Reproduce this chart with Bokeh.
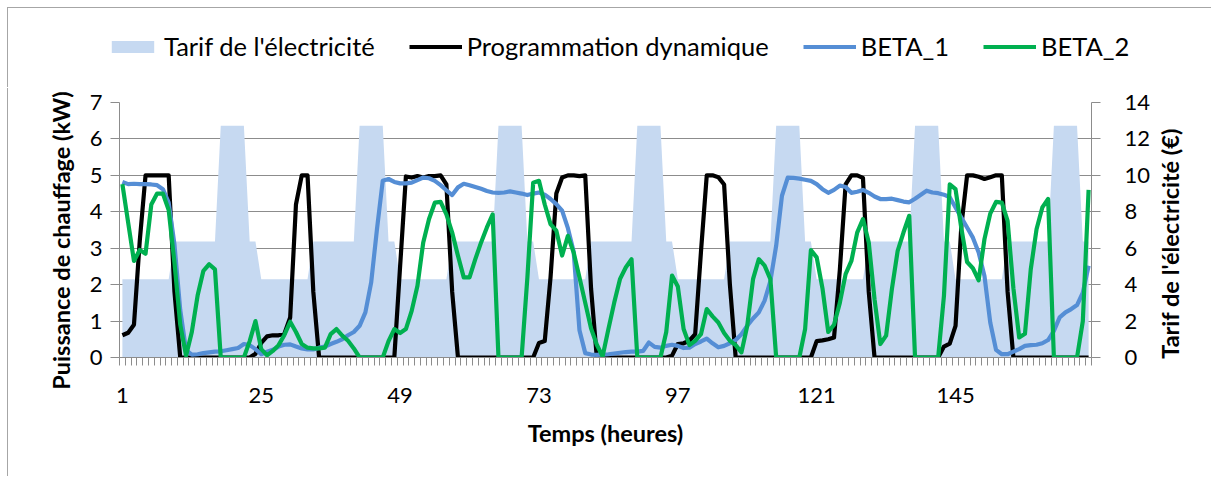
import math
from bokeh.plotting import figure
from bokeh.models import Range1d, LinearAxis, FixedTicker, Legend, LegendItem, Label
from bokeh.embed import file_html
from bokeh.resources import INLINE

# ---------------- data ----------------
hours = list(range(1, 169))

# Tarif de l'électricité (secondary axis, €)
tarif = [
    4.3, 4.3, 4.3, 4.3, 4.3, 4.3, 4.3, 4.3, 4.3, 6.37, 6.37, 6.37, 6.37, 6.37, 6.37, 6.37, 6.37, 12.73, 12.73, 12.73, 12.73, 12.73, 6.37, 6.37,
    4.3, 4.3, 4.3, 4.3, 4.3, 4.3, 4.3, 4.3, 4.3, 6.37, 6.37, 6.37, 6.37, 6.37, 6.37, 6.37, 6.37, 12.73, 12.73, 12.73, 12.73, 12.73, 6.37, 6.37,
    4.3, 4.3, 4.3, 4.3, 4.3, 4.3, 4.3, 4.3, 4.3, 6.37, 6.37, 6.37, 6.37, 6.37, 6.37, 6.37, 6.37, 12.73, 12.73, 12.73, 12.73, 12.73, 6.37, 6.37,
    4.3, 4.3, 4.3, 4.3, 4.3, 4.3, 4.3, 4.3, 4.3, 6.37, 6.37, 6.37, 6.37, 6.37, 6.37, 6.37, 6.37, 12.73, 12.73, 12.73, 12.73, 12.73, 6.37, 6.37,
    4.3, 4.3, 4.3, 4.3, 4.3, 4.3, 4.3, 4.3, 4.3, 6.37, 6.37, 6.37, 6.37, 6.37, 6.37, 6.37, 6.37, 12.73, 12.73, 12.73, 12.73, 12.73, 6.37, 6.37,
    4.3, 4.3, 4.3, 4.3, 4.3, 4.3, 4.3, 4.3, 4.3, 6.37, 6.37, 6.37, 6.37, 6.37, 6.37, 6.37, 6.37, 12.73, 12.73, 12.73, 12.73, 12.73, 6.37, 6.37,
    4.3, 4.3, 4.3, 4.3, 4.3, 4.3, 4.3, 4.3, 4.3, 6.37, 6.37, 6.37, 6.37, 6.37, 6.37, 6.37, 6.37, 12.73, 12.73, 12.73, 12.73, 12.73, 6.37, 6.37,
]

# Programmation dynamique (kW)
dp = [
    0.61, 0.68, 0.9, 3.2, 5.0, 5.0, 5.0, 5.0, 5.0, 1.8, 0, 0, 0, 0, 0, 0, 0, 0, 0, 0, 0, 0, 0, 0.1,
    0.4, 0.58, 0.61, 0.61, 0.65, 1.1, 4.2, 5.0, 5.0, 1.8, 0, 0, 0, 0, 0, 0, 0, 0, 0, 0, 0, 0, 0, 0,
    2.5, 4.97, 4.94, 4.98, 4.94, 4.98, 4.98, 5.0, 4.75, 1.8, 0, 0, 0, 0, 0, 0, 0, 0, 0, 0, 0, 0, 0, 0,
    0.4, 0.45, 2.2, 4.5, 4.94, 5.0, 5.0, 4.98, 5.0, 1.9, 0, 0, 0, 0, 0, 0, 0, 0, 0, 0, 0, 0, 0, 0.05,
    0.37, 0.39, 0.46, 0.64, 2.9, 5.0, 5.0, 4.95, 4.75, 2.0, 0, 0, 0, 0, 0, 0, 0, 0, 0, 0, 0, 0, 0, 0,
    0.45, 0.47, 0.5, 0.55, 2.4, 4.75, 5.0, 5.0, 4.93, 1.8, 0, 0, 0, 0, 0, 0, 0, 0, 0, 0, 0, 0, 0.3, 0.38,
    0.87, 3.6, 5.0, 5.0, 4.96, 4.9, 4.95, 5.0, 5.0, 1.8, 0, 0, 0, 0, 0, 0, 0, 0, 0, 0, 0, 0, 0, 0,
]

# BETA_1 (kW)
beta1 = [
    4.82, 4.76, 4.77, 4.76, 4.76, 4.75, 4.73, 4.62, 4.25, 3.1, 1.3, 0.2, 0.08, 0.09, 0.12, 0.14, 0.16, 0.17, 0.2, 0.23, 0.26, 0.37, 0.34, 0.23,
    0.09, 0.16, 0.21, 0.3, 0.35, 0.36, 0.3, 0.25, 0.22, 0.22, 0.27, 0.3, 0.37, 0.43, 0.5, 0.61, 0.7, 0.87, 1.24, 2.06, 3.52, 4.85, 4.9, 4.82,
    4.78, 4.78, 4.8, 4.87, 4.94, 4.92, 4.85, 4.73, 4.59, 4.46, 4.67, 4.77, 4.73, 4.68, 4.63, 4.57, 4.53, 4.52, 4.53, 4.56, 4.53, 4.5, 4.46, 4.5,
    4.53, 4.47, 4.35, 4.21, 4.03, 3.55, 2.9, 0.75, 0.12, 0.08, 0.07, 0.08, 0.09, 0.11, 0.13, 0.15, 0.16, 0.16, 0.18, 0.41, 0.29, 0.27, 0.32, 0.35,
    0.32, 0.26, 0.27, 0.37, 0.44, 0.52, 0.39, 0.28, 0.32, 0.39, 0.48, 0.64, 0.87, 1.07, 1.24, 1.56, 2.1, 3.07, 4.44, 4.94, 4.93, 4.91, 4.88, 4.85,
    4.76, 4.62, 4.52, 4.6, 4.72, 4.68, 4.52, 4.55, 4.6, 4.52, 4.42, 4.35, 4.35, 4.36, 4.32, 4.28, 4.26, 4.36, 4.47, 4.58, 4.53, 4.51, 4.47, 4.4,
    4.12, 3.84, 3.57, 3.29, 2.88, 2.24, 0.96, 0.21, 0.09, 0.09, 0.16, 0.23, 0.32, 0.34, 0.35, 0.39, 0.48, 0.73, 1.1, 1.24, 1.33, 1.44, 1.78, 2.52,
]

# BETA_2 (kW)
beta2 = [
    4.76, 3.7, 2.65, 2.95, 2.85, 4.2, 4.5, 4.5, 4.05, 2.6, 0.9, 0.05, 0.7, 1.7, 2.38, 2.56, 2.42, 0, 0, 0, 0, 0, 0.45, 1.0,
    0.23, 0.06, 0.18, 0.34, 0.62, 0.98, 0.7, 0.37, 0.27, 0.25, 0.25, 0.27, 0.64, 0.78, 0.6, 0.46, 0.25, 0, 0, 0, 0, 0, 0.45, 0.78,
    0.67, 0.78, 1.28, 1.97, 3.16, 3.8, 4.25, 4.27, 3.93, 3.43, 2.79, 2.2, 2.2, 2.7, 3.16, 3.57, 3.93, 0, 0, 0, 0, 0, 2.2, 4.8,
    4.85, 4.2, 3.66, 3.48, 2.8, 3.34, 2.88, 2.2, 1.5, 0.8, 0.35, 0.03, 0.78, 1.5, 2.15, 2.47, 2.7, 0, 0, 0, 0, 0, 0.7, 2.25,
    1.95, 0.78, 0.34, 0.46, 0.64, 1.33, 1.13, 0.96, 0.67, 0.46, 0.34, 0.14, 0.87, 2.15, 2.7, 2.52, 2.15, 0, 0, 0, 0, 0, 0.78, 2.95,
    2.75, 1.9, 0.7, 0.9, 1.5, 2.29, 2.65, 3.43, 3.8, 3.16, 1.6, 0.37, 0.6, 1.88, 2.93, 3.43, 3.89, 0, 0, 0, 0, 0, 1.7, 4.75,
    4.62, 3.55, 2.62, 2.45, 2.12, 3.25, 3.95, 4.27, 4.25, 3.75, 1.9, 0.55, 0.65, 2.42, 3.52, 4.12, 4.35, 0, 0, 0, 0, 0, 1.0, 4.6,
]

x_tick_labels = [1, 25, 49, 73, 97, 121, 145]
left_ticks = [0, 1, 2, 3, 4, 5, 6, 7]
right_ticks = [0, 2, 4, 6, 8, 10, 12, 14]

series_names = ["Tarif de l'électricité", "Programmation dynamique", "BETA_1", "BETA_2"]
x_title = "Temps (heures)"
y_title = "Puissance de chauffage (kW)"
y2_title = "Tarif de l'électricité (€)"

# ---------------- style ----------------
FONT = "Lato"
GREY = "#8c8c8c"
BORDER = "1px solid #a6a6a6"
C_AREA = "#C6D9F1"
C_DP = "#000000"
C_B1 = "#558ED5"
C_B2 = "#00B050"
LW = 4.2
W = 1204


def strip(w, h, xr, yr, transparent=False):
    fig = figure(width=w, height=h, x_range=xr, y_range=yr, title=None,
                 output_backend="svg", toolbar_location=None,
                 min_border_left=0, min_border_right=0, min_border_top=0, min_border_bottom=0)
    fig.outline_line_color = None
    fig.xaxis.visible = False
    fig.yaxis.visible = False
    fig.xgrid.grid_line_color = None
    fig.ygrid.grid_line_color = None
    if transparent:
        fig.background_fill_alpha = 0
        fig.border_fill_alpha = 0
    else:
        fig.background_fill_color = "white"
        fig.border_fill_color = "white"
    return fig


# ---------------- legend strip (series drawn off-view, only their legend shows) ----------------
LH = 80
lf = strip(W, LH, Range1d(400, 400 + W), Range1d(0, LH))
l_area = lf.varea(x=hours, y1=0, y2=tarif, fill_color=C_AREA)
l_dp = lf.line(hours, dp, line_color=C_DP, line_width=LW)
l_b1 = lf.line(hours, beta1, line_color=C_B1, line_width=LW)
l_b2 = lf.line(hours, beta2, line_color=C_B2, line_width=LW)
legend = Legend(items=[
    LegendItem(label=series_names[0], renderers=[l_area]),
    LegendItem(label=series_names[1], renderers=[l_dp]),
    LegendItem(label=series_names[2], renderers=[l_b1]),
    LegendItem(label=series_names[3], renderers=[l_b2]),
], orientation="horizontal", location=(98, 27),
    glyph_width=53, glyph_height=15, label_standoff=5, spacing=34,
    padding=0, margin=0, border_line_color=None, background_fill_alpha=0,
    label_text_font=FONT, label_text_font_size="25.5px", label_text_color="black")
lf.add_layout(legend)
lf.styles = {"position": "absolute", "left": "7px", "top": "7px",
             "border-left": BORDER, "border-top": BORDER}

# ---------------- main chart ----------------
H = 388
p = figure(width=W, height=H, title=None,
           x_range=Range1d(0.5, 168.5), y_range=Range1d(0, 7),
           output_backend="svg", toolbar_location=None,
           min_border_left=111, min_border_right=W - 1083,
           min_border_top=14, min_border_bottom=H - 14 - 255)
p.outline_line_color = None
p.background_fill_color = "white"
p.border_fill_color = "white"
p.extra_y_ranges = {"tarif": Range1d(0, 14)}

r_area = p.varea(x=hours, y1=0, y2=tarif, y_range_name="tarif",
                 fill_color=C_AREA, fill_alpha=1.0)
r_dp = p.line(hours, dp, line_color=C_DP, line_width=LW, line_join="round")
r_b1 = p.line(hours, beta1, line_color=C_B1, line_width=LW, line_join="round")
r_b2 = p.line(hours, beta2, line_color=C_B2, line_width=LW, line_join="round")

p.xgrid.grid_line_color = None
p.ygrid.ticker = FixedTicker(ticks=left_ticks[1:])
p.ygrid.grid_line_color = GREY
p.ygrid.grid_line_width = 1

xa = p.xaxis[0]
xa.ticker = FixedTicker(ticks=x_tick_labels, minor_ticks=[k + 0.5 for k in range(0, 169)])
xa.major_tick_line_color = None
xa.major_tick_out = 8
xa.major_tick_in = 0
xa.minor_tick_out = 8
xa.minor_tick_in = 0
xa.minor_tick_line_color = GREY
xa.axis_line_color = GREY
xa.major_label_text_font = FONT
xa.major_label_text_font_size = "22px"
xa.major_label_text_color = "black"
xa.major_label_standoff = 22
xa.axis_label = x_title
xa.axis_label_text_font = FONT
xa.axis_label_text_font_style = "bold"
xa.axis_label_text_font_size = "23.5px"
xa.axis_label_text_color = "black"
xa.axis_label_standoff = 13

ya = p.yaxis[0]
ya.ticker = FixedTicker(ticks=left_ticks)
ya.minor_tick_line_color = None
ya.major_tick_out = 9
ya.major_tick_in = 0
ya.major_tick_line_color = GREY
ya.axis_line_color = GREY
ya.major_label_text_font = FONT
ya.major_label_text_font_size = "22px"
ya.major_label_text_color = "black"
ya.major_label_standoff = 8

ra = LinearAxis(y_range_name="tarif", ticker=FixedTicker(ticks=right_ticks))
ra.minor_tick_line_color = None
ra.major_tick_out = 9
ra.major_tick_in = 0
ra.major_tick_line_color = GREY
ra.axis_line_color = GREY
ra.major_label_text_font = FONT
ra.major_label_text_font_size = "22px"
ra.major_label_text_color = "black"
ra.major_label_standoff = 24
p.add_layout(ra, "right")
p.styles = {"position": "absolute", "left": "7px", "top": "88px", "border-left": BORDER}

# ---------------- axis titles (overlaid, transparent) ----------------
lt = strip(44, 320, Range1d(0, 44), Range1d(0, 320), transparent=True)
lt.add_layout(Label(x=22, y=160, text=y_title, angle=math.pi / 2,
                    text_align="center", text_baseline="middle",
                    text_font=FONT, text_font_style="bold", text_font_size="23.5px",
                    text_color="black"))
lt.styles = {"position": "absolute", "left": "38px", "top": "80px"}

rt = strip(44, 300, Range1d(0, 44), Range1d(0, 300), transparent=True)
rt.add_layout(Label(x=22, y=150, text=y2_title, angle=math.pi / 2,
                    text_align="center", text_baseline="middle",
                    text_font=FONT, text_font_style="bold", text_font_size="23.5px",
                    text_color="black"))
rt.styles = {"position": "absolute", "left": "1147px", "top": "93px"}

open("out.html", "w").write(file_html([lf, p, lt, rt], INLINE))
